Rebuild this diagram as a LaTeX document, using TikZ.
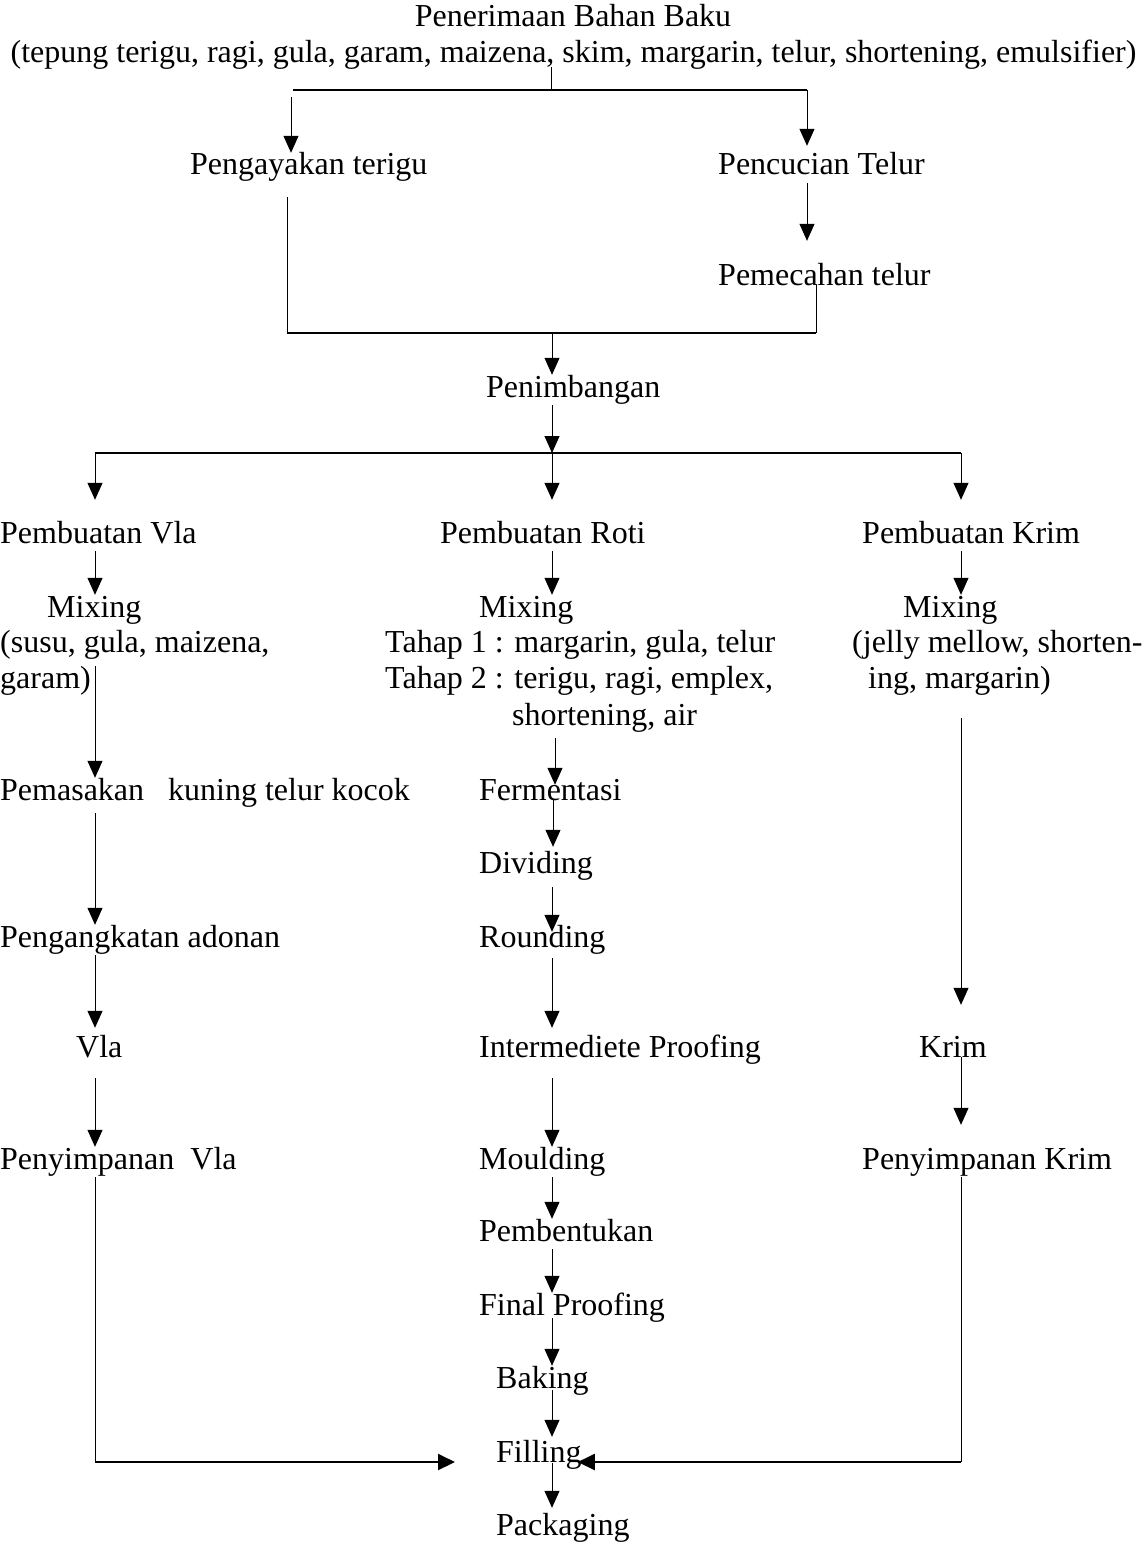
\documentclass[tikz,border=0pt]{standalone}
\usepackage{fontspec}
\setmainfont{Liberation Serif}
\usetikzlibrary{arrows.meta,calc}
\begin{document}
\begin{tikzpicture}[x=1pt,y=-1pt,
  lbl/.style={inner sep=0pt, text height=22pt, text depth=8pt, anchor=base west, font=\fontsize{32}{36}\selectfont},
  clbl/.style={lbl, anchor=base},
  ln/.style={line width=1pt},
  thk/.style={line width=2pt},
  arr/.style={line width=1pt, -{Triangle[length=17pt,width=15pt]}},
  arrthk/.style={line width=2pt, -{Triangle[length=17pt,width=16pt]}}]
\useasboundingbox[fill=white] (0,0) rectangle (1146,1544);
% columns / junctions
\coordinate (cV) at (95,0);
\coordinate (cR) at (552,0);
\coordinate (cR2) at (555,0);
\coordinate (cK) at (961,0);
\coordinate (sL) at (293,90);
\coordinate (sM) at (551,90);
\coordinate (sR) at (807,90);
\coordinate (jL) at (287,333);
\coordinate (jM) at (552,333);
\coordinate (jR) at (816,333);
\coordinate (bL) at (95,453);
\coordinate (bM) at (552,453);
\coordinate (bR) at (961,453);
\coordinate (fV) at (95,1462);
\coordinate (fK) at (961,1462);
% texts
\node[clbl] (t1) at (573,27) {Penerimaan Bahan Baku};
\node[clbl] (t2) at (573.5,63) {(tepung terigu, ragi, gula, garam, maizena, skim, margarin, telur, shortening, emulsifier)};
\node[lbl] (peng) at (190,175) {Pengayakan terigu};
\node[lbl] (cuci) at (718,175) {Pencucian Telur};
\node[lbl] (pecah) at (718,285) {Pemecahan telur};
\node[lbl] (timb) at (486,397) {Penimbangan};
\node[lbl] (pvla) at (0,543) {Pembuatan Vla};
\node[lbl] (proti) at (440,543) {Pembuatan Roti};
\node[lbl] (pkrim) at (862,543) {Pembuatan Krim};
\node[lbl] (vmix) at (47,617) {Mixing};
\node[lbl] (vmixa) at (0,652) {(susu, gula, maizena,};
\node[lbl] (vmixb) at (0,688) {garam)};
\node[lbl] (rmix) at (479,617) {Mixing};
\node[lbl] (rmixa) at (385,652) {Tahap 1 : margarin, gula, telur};
\node[lbl] (rmixb) at (385,688) {Tahap 2 : terigu, ragi, emplex,};
\node[lbl] (rmixc) at (512,725) {shortening, air};
\node[lbl] (kmix) at (903,617) {Mixing};
\node[lbl] (kmixa) at (852,652) {(jelly mellow, shorten-};
\node[lbl] (kmixb) at (868,688) {ing, margarin)};
\node[lbl] (masak) at (0,800) {Pemasakan\ \ \ kuning telur kocok};
\node[lbl] (ferm) at (479,800) {Fermentasi};
\node[lbl] (divid) at (479,873) {Dividing};
\node[lbl] (angkat) at (0,947) {Pengangkatan adonan};
\node[lbl] (round) at (479,947) {Rounding};
\node[lbl] (vla) at (76,1057) {Vla};
\node[lbl] (inter) at (479,1057) {Intermediete Proofing};
\node[lbl] (krim) at (919,1057) {Krim};
\node[lbl] (simvla) at (0,1169) {Penyimpanan\ \ Vla};
\node[lbl] (mould) at (479,1169) {Moulding};
\node[lbl] (simkrim) at (862,1169) {Penyimpanan Krim};
\node[lbl] (bentuk) at (479,1241) {Pembentukan};
\node[lbl] (final) at (479,1315) {Final Proofing};
\node[lbl] (bake) at (496,1388) {Baking};
\node[lbl] (fill) at (496,1462) {Filling};
\node[lbl] (pack) at (496,1535) {Packaging};
% top split
\draw[ln, shorten <=-4pt] (t2.south -| sM) -- (sM);
\draw[thk] (sL) -- (sR);
\draw[arr] ($(sL)+(-2,7)$) -- (peng.north -| 291,0);
\draw[arr, shorten >=7pt] (sR) -- (cuci.north -| sR);
\draw[arr, shorten >=22pt] (cuci.south -| sR) -- (pecah.north -| sR);
% merge to Penimbangan
\draw[ln, shorten <=14pt] (peng.south -| jL) -- (jL);
\draw[thk] (jL) -- (jR);
\draw[ln] (jR) -- (pecah.base -| jR);
\draw[arr] (jM) -- (timb.north -| jM);
% split into three
\draw[arr] (timb.south -| bM) -- (bM);
\draw[thk] (bL) -- (bR);
\draw[arr, shorten >=21pt] (bL) -- (pvla.north -| bL);
\draw[arr, shorten >=21pt] (bM) -- (proti.north -| bM);
\draw[arr, shorten >=21pt] (bR) -- (pkrim.north -| bR);
\draw[arr] (pvla.south -| cV) -- (vmix.north -| cV);
\draw[arr] (proti.south -| cR) -- (rmix.north -| cR);
\draw[arr] (pkrim.south -| cK) -- (kmix.north -| cK);
% Vla column
\draw[arr] (vmixb.north -| cV) -- (masak.north -| cV);
\draw[arr, shorten <=5pt] (masak.south -| cV) -- (angkat.north -| cV);
\draw[arr, shorten >=7pt] (angkat.south -| cV) -- (vla.north -| cV);
\draw[arr, shorten <=13pt] (vla.south -| cV) -- (simvla.north -| cV);
\draw[ln] (simvla.south -| cV) -- (fV);
\draw[arrthk, shorten >=41pt] (fV) -- (fV -| fill.west);
% Roti column
\draw[arr, shorten <=5pt, shorten >=-7pt] (rmixc.south -| cR2) -- (ferm.north -| cR2);
\draw[arr, shorten >=4pt] (ferm.base -| 553,0) -- (divid.north -| 553,0);
\draw[arr, shorten <=6pt, shorten >=-7pt] (divid.south -| cR) -- (round.north -| cR);
\draw[arr, shorten <=3pt, shorten >=7pt] (round.south -| cR) -- (inter.north -| cR);
\draw[arr, shorten <=13pt] (inter.south -| cR) -- (mould.north -| cR);
\draw[arr] (mould.south -| cR) -- (bentuk.north -| cR);
\draw[arr] (bentuk.south -| cR) -- (final.north -| cR);
\draw[arr, shorten <=-5pt] (final.south -| cR) -- (bake.north -| cR);
\draw[arr, shorten <=-6pt, shorten >=3pt] (bake.south -| cR) -- (fill.north -| cR);
\draw[arr, shorten <=-7pt, shorten >=5pt] (fill.south -| cR) -- (pack.north -| cR);
% Krim column
\draw[arr, shorten <=22pt, shorten >=30pt] (kmixb.south -| cK) -- (krim.north -| cK);
\draw[arr, shorten >=22pt] (krim.base -| cK) -- (simkrim.north -| cK);
\draw[ln] (simkrim.south -| cK) -- (fK);
\draw[arrthk, shorten >=-4pt] (fK) -- (fK -| fill.east);
\end{tikzpicture}
\end{document}
